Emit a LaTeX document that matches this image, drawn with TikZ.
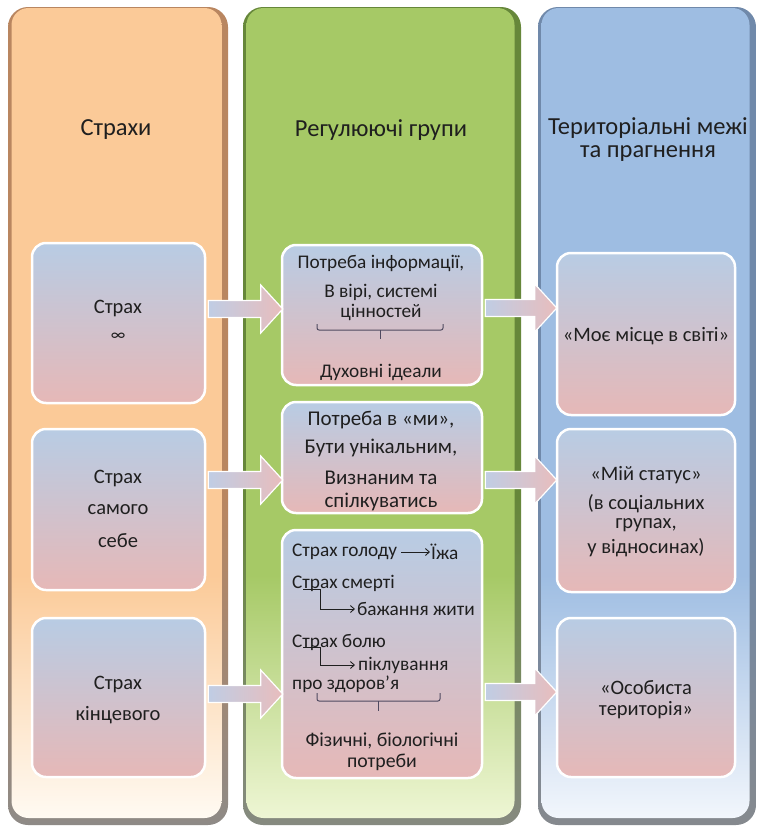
\documentclass[tikz,border=0pt]{standalone}
\usepackage{fontspec}
\setmainfont{Carlito}
\usetikzlibrary{calc,arrows.meta}

\definecolor{oTop}{HTML}{FBCA98}
\definecolor{oBot}{HTML}{FFFAF2}
\definecolor{oFrT}{HTML}{B98660}
\definecolor{oFrB}{HTML}{8E8A86}
\definecolor{gTop}{HTML}{A6C966}
\definecolor{gBot}{HTML}{EEF6D4}
\definecolor{gFrT}{HTML}{66873A}
\definecolor{gFrB}{HTML}{868A80}
\definecolor{bTop}{HTML}{9EBDE2}
\definecolor{bBot}{HTML}{F2F6FC}
\definecolor{bFrT}{HTML}{7089AA}
\definecolor{bFrB}{HTML}{85898E}
\definecolor{boxTop}{HTML}{B8CCE4}
\definecolor{boxBot}{HTML}{E6B8B7}
\definecolor{arrL}{HTML}{C0CDE4}
\definecolor{arrR}{HTML}{E8BDBD}
\definecolor{ink}{HTML}{1F1F1F}
\definecolor{bracec}{HTML}{4F4A60}

\pgfdeclareverticalshading{oshade}{100bp}{color(0bp)=(oBot); color(25bp)=(oBot); color(40bp)=(oTop); color(100bp)=(oTop)}
\pgfdeclareverticalshading{gshade}{100bp}{color(0bp)=(gBot); color(25bp)=(gBot); color(40bp)=(gTop); color(100bp)=(gTop)}
\pgfdeclareverticalshading{bshade}{100bp}{color(0bp)=(bBot); color(25bp)=(bBot); color(40bp)=(bTop); color(100bp)=(bTop)}
\pgfdeclareverticalshading{ofr}{100bp}{color(0bp)=(oFrB); color(25bp)=(oFrB); color(45bp)=(oFrT); color(100bp)=(oFrT)}
\pgfdeclareverticalshading{gfr}{100bp}{color(0bp)=(gFrB); color(25bp)=(gFrB); color(45bp)=(gFrT); color(100bp)=(gFrT)}
\pgfdeclareverticalshading{bfr}{100bp}{color(0bp)=(bFrB); color(25bp)=(bFrB); color(45bp)=(bFrT); color(100bp)=(bFrT)}

\newcommand\blockarrow[2]{%
  \path[barrow] ($(#1)+(0,-8.5)$) -- ($(#2)+(-22,-8.5)$) -- ($(#2)+(-22,-24)$) -- (#2)
    -- ($(#2)+(-22,24)$) -- ($(#2)+(-22,8.5)$) -- ($(#1)+(0,8.5)$) -- cycle;}

\tikzset{
  colfr/.style={rounded corners=20pt, inner sep=0pt},
  colin/.style={rounded corners=17pt, inner sep=0pt},
  box/.style={draw=white, line width=2.5pt, rounded corners=14pt,
    top color=boxTop, bottom color=boxBot, inner sep=0pt},
  barrow/.style={draw=white, line width=1.2pt, left color=arrL, right color=arrR},
  hdr/.style={font=\fontsize{24.5}{28}\selectfont, text=ink, inner sep=0pt},
  txt/.style={font=\fontsize{20.5}{22}\selectfont, text=ink, inner sep=0pt},
  txtm/.style={font=\fontsize{19.3}{21}\selectfont, text=ink, inner sep=0pt},
  txtb/.style={font=\fontsize{21}{23}\selectfont, text=ink, inner sep=0pt},
  smallarr/.style={draw=ink, line width=0.9pt, -{Straight Barb[length=4pt,width=7pt]}},
  bracest/.style={draw=bracec, line width=1pt, rounded corners=2pt},
}

\begin{document}
\begin{tikzpicture}[x=1pt,y=-1pt]
\useasboundingbox[fill=white] (0,0) rectangle (757,827);

% columns
\node[colfr, shading=ofr, minimum width=220pt, minimum height=818pt] (colOf) at (118,416) {};
\node[colin, shading=oshade, minimum width=210pt, minimum height=810pt] (colO) at (116.5,413) {};
\node[colfr, shading=gfr, minimum width=278pt, minimum height=818pt] (colGf) at (382,416) {};
\node[colin, shading=gshade, minimum width=268pt, minimum height=810pt] (colG) at (380.5,413) {};
\node[colfr, shading=bfr, minimum width=218pt, minimum height=818pt] (colBf) at (647,416) {};
\node[colin, shading=bshade, minimum width=208pt, minimum height=810pt] (colB) at (645.5,413) {};

% headers
\node[hdr] (h1) at (116,130) {Страхи};
\node[hdr] (h2) at (381,130) {Регулюючі групи};
\node[hdr] (h3a) at (648,128) {Територіальні межі};
\node[hdr] (h3b) at (648,154) {та прагнення};

% boxes
\node[box, minimum width=173pt, minimum height=160pt] (l1) at (118.5,323) {};
\node[box, minimum width=173pt, minimum height=161pt] (l2) at (118.5,509.5) {};
\node[box, minimum width=173pt, minimum height=159pt] (l3) at (118.5,697.5) {};
\node[box, minimum width=200pt, minimum height=140pt] (m1) at (382,315) {};
\node[box, minimum width=200pt, minimum height=111pt] (m2) at (382,457.5) {};
\node[box, minimum width=200pt, minimum height=248pt] (m3) at (382,654) {};
\node[box, minimum width=178pt, minimum height=162pt] (r1) at (646,334) {};
\node[box, minimum width=178pt, minimum height=163pt] (r2) at (646,510.5) {};
\node[box, minimum width=178pt, minimum height=159pt] (r3) at (646,697.5) {};

% block arrows
\coordinate (ya) at (0,309);
\coordinate (yb) at (0,480);
\coordinate (yc) at (0,694);
\coordinate (yd) at (0,308);
\coordinate (ye) at (0,480);
\coordinate (yf) at (0,692);
\coordinate (a1s) at ($(l1.east|-ya)+(2,0)$);
\coordinate (a1e) at ($(m1.west|-ya)+(2,0)$);
\coordinate (a2s) at ($(l2.east|-yb)+(2,0)$);
\coordinate (a2e) at ($(m2.west|-yb)+(2,0)$);
\coordinate (a3s) at ($(l3.east|-yc)+(2,0)$);
\coordinate (a3e) at ($(m3.west|-yc)+(2,0)$);
\coordinate (a4s) at ($(m1.east|-yd)+(2,0)$);
\coordinate (a4e) at ($(r1.west|-yd)+(1,0)$);
\coordinate (a5s) at ($(m2.east|-ye)+(2,0)$);
\coordinate (a5e) at ($(r2.west|-ye)+(1,0)$);
\coordinate (a6s) at ($(m3.east|-yf)+(2,0)$);
\coordinate (a6e) at ($(r3.west|-yf)+(1,0)$);
\blockarrow{a1s}{a1e}
\blockarrow{a2s}{a2e}
\blockarrow{a3s}{a3e}
\blockarrow{a4s}{a4e}
\blockarrow{a5s}{a5e}
\blockarrow{a6s}{a6e}

% left texts
\node[txt] (l1a) at (118,308) {Страх};
\node[txt, font=\fontsize{17}{18}\selectfont] (l1b) at (118,337) {∞};
\node[txt] (l2a) at (118,478) {Страх};
\node[txt] (l2b) at (118,510) {самого};
\node[txt] (l2c) at (118,541) {себе};
\node[txt] (l3a) at (118,684) {Страх};
\node[txt] (l3b) at (118,715) {кінцевого};

% middle 1
\node[txtm] (m1a) at (381,263) {Потреба інформації,};
\node[txtm] (m1b) at (381,292) {В вірі, системі};
\node[txtm] (m1c) at (381,312) {цінностей};
\draw[bracest] (317,324) -- (317,330) -- (443,330) -- (443,324);
\draw[bracest] (380,330) -- (380,339);
\node[txtm] (m1d) at (381,372) {Духовні ідеали};

% middle 2
\node[txtb] (m2a) at (381,420) {Потреба в «ми»,};
\node[txtb] (m2b) at (381,448) {Бути унікальним,};
\node[txtb] (m2c) at (381,478) {Визнаним та};
\node[txtb] (m2d) at (381,502) {спілкуватись};

% middle 3
\node[txtm, anchor=west] (m3a) at (292,552) {Страх голоду};
\node[txtm, anchor=west] (m3b) at (431,552) {Їжа};
\draw[smallarr] ($(m3a.east)+(4,0)$) -- ($(m3b.west)+(-1,0)$);
\node[txtm, anchor=west] (m3c) at (292,583) {Страх смерті};
\node[txtm, anchor=west] (m3d) at (357,609) {бажання жити};
\draw[smallarr, shorten >=2pt] (303,589) -- (320,589) |- (m3d.west);
\node[txtm, anchor=west] (m3e) at (292,642) {Страх болю};
\node[txtm, anchor=west] (m3f) at (358,665) {піклування};
\draw[smallarr, shorten >=3pt] (303,647) -- (320,647) |- (m3f.west);
\node[txtm, anchor=west] (m3g) at (292,684) {про здоров’я};
\draw[bracest] (317,693) -- (317,701) -- (440,701) -- (440,693);
\draw[bracest] (378,701) -- (378,711);
\node[txtm, font=\fontsize{19.8}{21}\selectfont] (m3h) at (382,741) {Фізичні, біологічні};
\node[txtm, font=\fontsize{19.8}{21}\selectfont] (m3i) at (382,762) {потреби};

% right texts
\node[txt] (r1a) at (646,336) {«Моє місце в світі»};
\node[txt] (r2a) at (646,475) {«Мій статус»};
\node[txt] (r2b) at (646,504) {(в соціальних};
\node[txt] (r2c) at (646,525) {групах,};
\node[txt] (r2d) at (646,548) {у відносинах)};
\node[txt] (r3a) at (646,688) {«Особиста};
\node[txt] (r3b) at (646,710) {територія»};
\end{tikzpicture}
\end{document}
